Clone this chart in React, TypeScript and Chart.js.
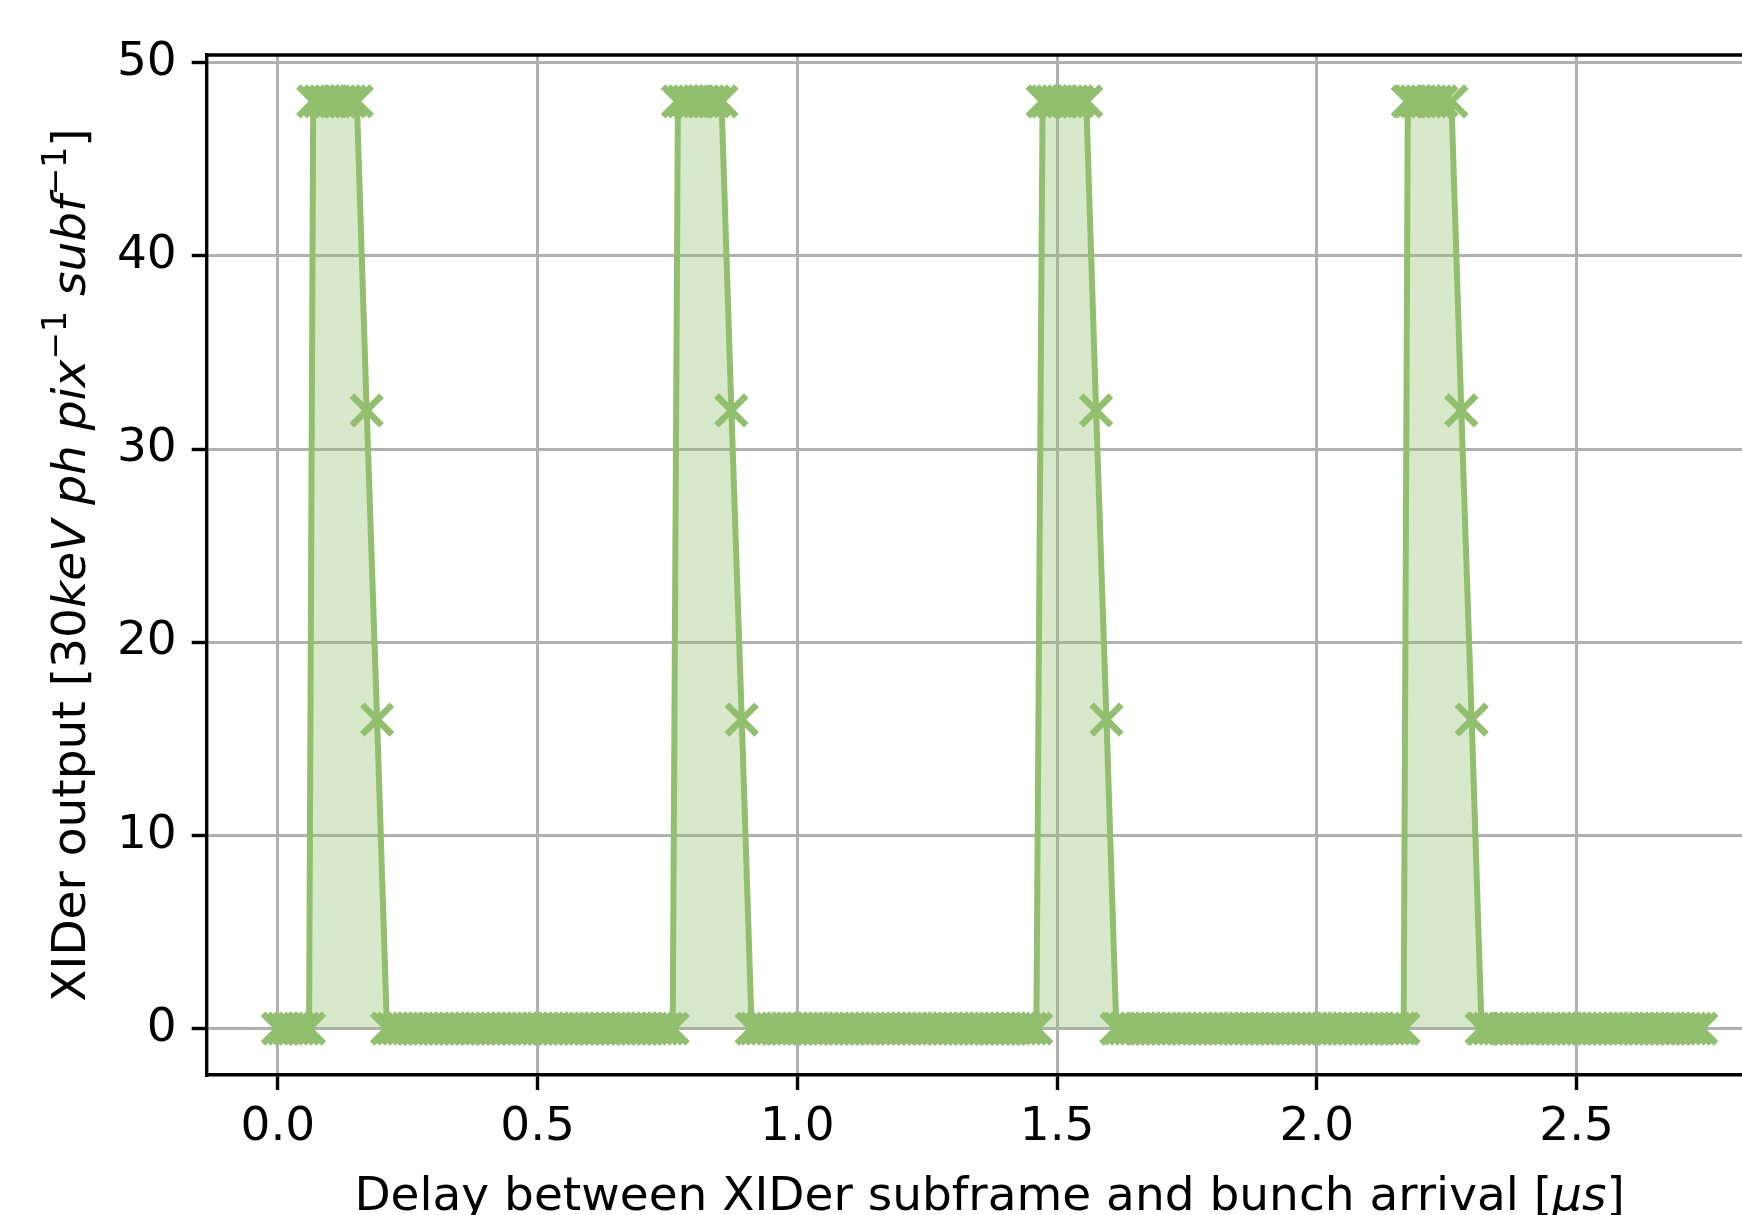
import React, { useEffect, useRef } from 'react';
import { Chart, registerables } from 'chart.js';

Chart.register(...registerables);

// Delay between XIDer subframe and bunch arrival [µs]
const delays = [
  0.00, 0.01, 0.02, 0.03, 0.04, 0.05, 0.06,
  0.068, 0.08, 0.09, 0.10, 0.11, 0.12, 0.13, 0.14, 0.152,
  0.171, 0.191,
  0.21, 0.22, 0.23, 0.24, 0.25, 0.26, 0.27, 0.28, 0.29, 0.30,
  0.31, 0.32, 0.33, 0.34, 0.35, 0.36, 0.37, 0.38, 0.39, 0.40,
  0.41, 0.42, 0.43, 0.44, 0.45, 0.46, 0.47, 0.48, 0.49, 0.50,
  0.51, 0.52, 0.53, 0.54, 0.55, 0.56, 0.57, 0.58, 0.59, 0.60,
  0.61, 0.62, 0.63, 0.64, 0.65, 0.66, 0.67, 0.68, 0.69, 0.70,
  0.71, 0.72, 0.73, 0.74, 0.75, 0.76,
  0.77, 0.78, 0.79, 0.80, 0.81, 0.82, 0.83, 0.84, 0.854,
  0.873, 0.893,
  0.912, 0.92, 0.93, 0.94, 0.95, 0.96, 0.97, 0.98, 0.99, 1.00,
  1.01, 1.02, 1.03, 1.04, 1.05, 1.06, 1.07, 1.08, 1.09, 1.10,
  1.11, 1.12, 1.13, 1.14, 1.15, 1.16, 1.17, 1.18, 1.19, 1.20,
  1.21, 1.22, 1.23, 1.24, 1.25, 1.26, 1.27, 1.28, 1.29, 1.30,
  1.31, 1.32, 1.33, 1.34, 1.35, 1.36, 1.37, 1.38, 1.39, 1.40,
  1.41, 1.42, 1.43, 1.44, 1.45, 1.46,
  1.472, 1.48, 1.49, 1.50, 1.51, 1.52, 1.53, 1.54, 1.556,
  1.575, 1.595,
  1.614, 1.62, 1.63, 1.64, 1.65, 1.66, 1.67, 1.68, 1.69, 1.70,
  1.71, 1.72, 1.73, 1.74, 1.75, 1.76, 1.77, 1.78, 1.79, 1.80,
  1.81, 1.82, 1.83, 1.84, 1.85, 1.86, 1.87, 1.88, 1.89, 1.90,
  1.91, 1.92, 1.93, 1.94, 1.95, 1.96, 1.97, 1.98, 1.99, 2.00,
  2.01, 2.02, 2.03, 2.04, 2.05, 2.06, 2.07, 2.08, 2.09, 2.10,
  2.11, 2.12, 2.13, 2.14, 2.15, 2.16, 2.167,
  2.175, 2.18, 2.19, 2.20, 2.21, 2.22, 2.23, 2.24, 2.259,
  2.278, 2.298,
  2.317, 2.32, 2.33, 2.34, 2.35, 2.36, 2.37, 2.38, 2.39, 2.40,
  2.41, 2.42, 2.43, 2.44, 2.45, 2.46, 2.47, 2.48, 2.49, 2.50,
  2.51, 2.52, 2.53, 2.54, 2.55, 2.56, 2.57, 2.58, 2.59, 2.60,
  2.61, 2.62, 2.63, 2.64, 2.65, 2.66, 2.67, 2.68, 2.69, 2.70,
  2.71, 2.72, 2.73, 2.74,
];

// XIDer output [30keV ph pix^-1 subf^-1]
const outputs = [
  0, 0, 0, 0, 0, 0, 0,
  48, 48, 48, 48, 48, 48, 48, 48, 48,
  32, 16,
  0, 0, 0, 0, 0, 0, 0, 0, 0, 0,
  0, 0, 0, 0, 0, 0, 0, 0, 0, 0,
  0, 0, 0, 0, 0, 0, 0, 0, 0, 0,
  0, 0, 0, 0, 0, 0, 0, 0, 0, 0,
  0, 0, 0, 0, 0, 0, 0, 0, 0, 0,
  0, 0, 0, 0, 0, 0,
  48, 48, 48, 48, 48, 48, 48, 48, 48,
  32, 16,
  0, 0, 0, 0, 0, 0, 0, 0, 0, 0,
  0, 0, 0, 0, 0, 0, 0, 0, 0, 0,
  0, 0, 0, 0, 0, 0, 0, 0, 0, 0,
  0, 0, 0, 0, 0, 0, 0, 0, 0, 0,
  0, 0, 0, 0, 0, 0, 0, 0, 0, 0,
  0, 0, 0, 0, 0, 0,
  48, 48, 48, 48, 48, 48, 48, 48, 48,
  32, 16,
  0, 0, 0, 0, 0, 0, 0, 0, 0, 0,
  0, 0, 0, 0, 0, 0, 0, 0, 0, 0,
  0, 0, 0, 0, 0, 0, 0, 0, 0, 0,
  0, 0, 0, 0, 0, 0, 0, 0, 0, 0,
  0, 0, 0, 0, 0, 0, 0, 0, 0, 0,
  0, 0, 0, 0, 0, 0, 0,
  48, 48, 48, 48, 48, 48, 48, 48, 48,
  32, 16,
  0, 0, 0, 0, 0, 0, 0, 0, 0, 0,
  0, 0, 0, 0, 0, 0, 0, 0, 0, 0,
  0, 0, 0, 0, 0, 0, 0, 0, 0, 0,
  0, 0, 0, 0, 0, 0, 0, 0, 0, 0,
  0, 0, 0, 0,
];

const xTicks = [0, 0.5, 1.0, 1.5, 2.0, 2.5];
const xTickLabels = ['0.0', '0.5', '1.0', '1.5', '2.0', '2.5'];
const yTicks = [0, 10, 20, 30, 40, 50];
const yTickLabels = ['0', '10', '20', '30', '40', '50'];

type Part = { text: string; italic?: boolean; sup?: boolean };
const xTitleParts: Part[] = [
  { text: 'Delay between XIDer subframe and bunch arrival [' },
  { text: 'μs', italic: true },
  { text: ']' },
];
const yTitleParts: Part[] = [
  { text: 'XIDer output [30' },
  { text: 'keV', italic: true },
  { text: ' ' },
  { text: 'ph', italic: true },
  { text: ' ' },
  { text: 'pix', italic: true },
  { text: '−1', sup: true },
  { text: ' ' },
  { text: 'subf', italic: true },
  { text: '−1', sup: true },
  { text: ']' },
];

const FAMILY = '"DejaVu Sans"';
const FS = 47;
const GREEN = 'rgb(145,191,110)';
const GREEN_FILL = 'rgba(145,191,110,0.36)';

function partFont(p: Part) {
  const size = p.sup ? Math.round(FS * 0.7) : FS;
  return `${p.italic ? 'italic ' : ''}${size}px ${FAMILY}`;
}

function drawParts(ctx: CanvasRenderingContext2D, parts: Part[], cx: number, baseY: number) {
  let total = 0;
  for (const p of parts) {
    ctx.font = partFont(p);
    total += ctx.measureText(p.text).width;
  }
  let x = cx - total / 2;
  ctx.textAlign = 'left';
  ctx.textBaseline = 'alphabetic';
  for (const p of parts) {
    ctx.font = partFont(p);
    ctx.fillText(p.text, x, baseY - (p.sup ? 19 : 0));
    x += ctx.measureText(p.text).width;
  }
}

const decorPlugin = {
  id: 'decor',
  afterDraw(chart: any) {
    const { ctx, chartArea } = chart;
    ctx.save();
    ctx.strokeStyle = '#000';
    ctx.lineWidth = 3.4;
    ctx.beginPath();
    ctx.moveTo(chartArea.left - 1.7, chartArea.top);
    ctx.lineTo(chartArea.right + 1.7, chartArea.top);
    ctx.moveTo(chartArea.right, chartArea.top);
    ctx.lineTo(chartArea.right, chartArea.bottom);
    ctx.stroke();
    ctx.fillStyle = '#000';
    drawParts(ctx, xTitleParts, (chartArea.left + chartArea.right) / 2, 1210);
    ctx.translate(85, (chartArea.top + chartArea.bottom) / 2);
    ctx.rotate(-Math.PI / 2);
    drawParts(ctx, yTitleParts, 0, 0);
    ctx.restore();
  },
};

export default function App() {
  const ref = useRef<HTMLCanvasElement>(null);
  useEffect(() => {
    document.body.style.margin = '0';
    const canvas = ref.current!;
    const points = delays.map((x, i) => ({ x, y: outputs[i] }));
    const chart = new Chart(canvas, {
      type: 'line',
      data: {
        datasets: [
          {
            data: points,
            borderColor: GREEN,
            borderWidth: 6,
            backgroundColor: GREEN_FILL,
            fill: 'origin',
            tension: 0,
            pointStyle: 'crossRot',
            pointRadius: 21,
            pointBorderWidth: 6.5,
            pointBorderColor: GREEN,
            pointBackgroundColor: GREEN,
          },
        ],
      },
      options: {
        responsive: false,
        animation: false,
        devicePixelRatio: 1,
        parsing: false,
        layout: { padding: { top: 55, right: 21.6, left: 0, bottom: 0 } },
        plugins: { legend: { display: false }, tooltip: { enabled: false } },
        scales: {
          x: {
            type: 'linear',
            min: -0.137,
            max: 2.877,
            afterBuildTicks: (s: any) => {
              s.ticks = xTicks.map((v) => ({ value: v }));
            },
            afterFit: (s: any) => {
              s.height = 140;
            },
            ticks: {
              callback: (_v: any, i: number) => xTickLabels[i],
              color: '#000',
              font: { family: 'DejaVu Sans', size: FS },
              padding: 10,
              maxRotation: 0,
              autoSkip: false,
            },
            grid: {
              color: '#b0b0b0',
              lineWidth: 3,
              tickColor: '#000',
              tickLength: 15,
              tickWidth: 3.4,
            },
            border: { color: '#000', width: 3.4 },
          },
          y: {
            type: 'linear',
            min: -2.4,
            max: 50.4,
            afterBuildTicks: (s: any) => {
              s.ticks = yTicks.map((v) => ({ value: v }));
            },
            afterFit: (s: any) => {
              s.width = 206.7;
            },
            ticks: {
              callback: (_v: any, i: number) => yTickLabels[i],
              color: '#000',
              font: { family: 'DejaVu Sans', size: FS },
              padding: 15,
              autoSkip: false,
            },
            grid: {
              color: '#b0b0b0',
              lineWidth: 3,
              tickColor: '#000',
              tickLength: 15,
              tickWidth: 3.4,
            },
            border: { color: '#000', width: 3.4 },
          },
        },
      },
      plugins: [decorPlugin],
    } as any);
    return () => chart.destroy();
  }, []);
  return (
    <div style={{ width: 1742, height: 1215, overflow: 'hidden', background: '#fff' }}>
      <canvas ref={ref} width={1800} height={1215} style={{ display: 'block', width: 1800, height: 1215 }} />
    </div>
  );
}
